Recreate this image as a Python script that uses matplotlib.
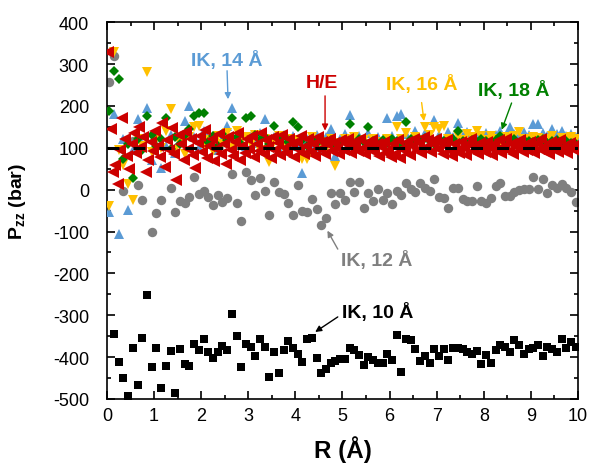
import numpy as np
import matplotlib
matplotlib.use("Agg")
import matplotlib.pyplot as plt
from matplotlib.ticker import MultipleLocator

plt.rcParams['font.family'] = ['Liberation Sans', 'DejaVu Sans']
plt.rcParams['mathtext.fontset'] = 'custom'
plt.rcParams['mathtext.rm'] = 'Liberation Sans'
plt.rcParams['mathtext.bf'] = 'Liberation Sans:bold'
plt.rcParams['mathtext.it'] = 'Liberation Sans:italic'
plt.rcParams['axes.unicode_minus'] = False

# ---------------- data ----------------
R_GRID = [0.05, 0.15, 0.25, 0.35, 0.45, 0.55, 0.65, 0.75, 0.85, 0.95,
          1.05, 1.15, 1.25, 1.35, 1.45, 1.55, 1.65, 1.75, 1.85, 1.95,
          2.05, 2.15, 2.25, 2.35, 2.45, 2.55, 2.65, 2.75, 2.85, 2.95,
          3.05, 3.15, 3.25, 3.35, 3.45, 3.55, 3.65, 3.75, 3.85, 3.95,
          4.05, 4.15, 4.25, 4.35, 4.45, 4.55, 4.65, 4.75, 4.85, 4.95,
          5.05, 5.15, 5.25, 5.35, 5.45, 5.55, 5.65, 5.75, 5.85, 5.95,
          6.05, 6.15, 6.25, 6.35, 6.45, 6.55, 6.65, 6.75, 6.85, 6.95,
          7.05, 7.15, 7.25, 7.35, 7.45, 7.55, 7.65, 7.75, 7.85, 7.95,
          8.05, 8.15, 8.25, 8.35, 8.45, 8.55, 8.65, 8.75, 8.85, 8.95,
          9.05, 9.15, 9.25, 9.35, 9.45, 9.55, 9.65, 9.75, 9.85, 9.95]

# IK, 10 A  (starts at R = 0.15)
P_IK10 = [-345, -411, -450, -492, -378, -467, -355, -251, -423,
          -379, -474, -422, -386, -485, -380, -417, -422, -369, -383,
          -356, -387, -401, -388, -373, -383, -297, -349, -423, -369,
          -376, -397, -356, -377, -447, -389, -437, -384, -361, -378,
          -392, -412, -357, -354, -401, -439, -428, -415, -409, -405,
          -405, -379, -384, -396, -419, -400, -408, -414, -414, -392,
          -408, -347, -435, -357, -358, -380, -410, -397, -415, -381,
          -398, -381, -408, -378, -378, -380, -387, -392, -385, -417,
          -396, -414, -382, -372, -376, -388, -360, -372, -392, -381,
          -379, -372, -398, -375, -381, -389, -357, -379, -363, -376]

nan = float('nan')
# IK, 12 A
P_IK12 = [257, 320, nan, -3, nan, 117, 12, -24, nan, -102,
          -56, -24, nan, 5, -53, -28, -33, -18, 31, -10,
          -3, -17, -37, -13, -30, -21, 37, -32, -74, 43,
          24, -13, 28, -3, -60, 19, -6, -10, -33, -60,
          11, -52, -53, -22, -46, -85, -68, -9, -34, -9,
          -24, 19, -6, 19, -45, -9, -28, 1, -25, -9,
          -34, -3, -13, 15, 1, -5, 15, 5, -3, 25,
          -17, -20, -45, 5, 3, -22, -28, -28, 9, -26,
          -33, -20, 9, 17, -16, -15, -6, 0, 2, 2,
          31, 2, 25, -8, 11, 5, 13, 3, -6, -30]

# IK, 14 A
P_IK14 = [-54, 180, -106, 120, -49, 95, 168, 110, 196, 71,
          125, 51, 105, 130, 88, 118, 164, 200, 125, 100,
          141, 110, 128, 95, 120, 152, 195, 118, 132, 105,
          128, 112, 135, 168, 108, 125, 98, 130, 115, 128,
          105, 40, 122, 110, 130, 98, 125, 146, 81, 120,
          132, 178, 118, 128, 105, 135, 115, 125, 108, 172,
          128, 176, 180, 132, 118, 140, 122, 135, 115, 167,
          130, 118, 138, 125, 160, 128, 137, 120, 132, 125,
          135, 118, 130, 140, 125, 149, 132, 128, 138, 130,
          156, 156, 135, 128, 144, 132, 140, 128, 134, 125]

# IK, 16 A
P_IK16 = [-40, 328, 95, 60, 13, -24, 120, 105, 280, 90,
          118, 100, 141, 192, 95, 112, 85, 125, 149, 151,
          105, 118, 92, 128, 110, 135, 100, 140, 115, 125,
          108, 130, 95, 120, 65, 115, 128, 100, 122, 110,
          118, 73, 73, 125, 105, 115, 98, 120, 57, 112,
          120, 108, 125, 112, 118, 105, 122, 110, 115, 120,
          110, 149, 122, 135, 112, 125, 118, 149, 130, 149,
          145, 152, 122, 115, 128, 118, 132, 125, 141, 129,
          118, 128, 122, 115, 126, 124, 129, 137, 122, 120,
          126, 124, 118, 122, 128, 115, 124, 120, 126, 122]

# IK, 18 A
P_IK18 = [188, 284, 264, 73, 110, 28, 120, 95, 176, 130,
          105, 120, 170, 98, 125, 110, 130, 145, 176, 184,
          183, 115, 128, 105, 132, 118, 172, 125, 110, 172,
          176, 130, 118, 125, 108, 152, 120, 128, 115, 162,
          149, 118, 105, 120, 112, 122, 108, 118, 100, 112,
          118, 157, 110, 120, 114, 149, 116, 108, 118, 112,
          122, 116, 110, 162, 120, 114, 118, 124, 116, 110,
          120, 116, 112, 122, 141, 116, 110, 118, 114, 120,
          116, 112, 118, 129, 114, 116, 120, 112, 118, 116,
          114, 118, 120, 112, 116, 118, 114, 116, 112, 110]

# H/E (finer sampling)
R_HE = [0.025, 0.075, 0.125, 0.175, 0.225, 0.275, 0.325, 0.375, 0.425, 0.475,
        0.525, 0.575, 0.625, 0.675, 0.725, 0.775, 0.825, 0.875, 0.925, 0.975,
        1.025, 1.075, 1.125, 1.175, 1.225, 1.275, 1.325, 1.375, 1.425, 1.475,
        1.525, 1.575, 1.625, 1.675, 1.725, 1.775, 1.825, 1.875, 1.925, 1.975,
        2.025, 2.075, 2.125, 2.175, 2.225, 2.275, 2.325, 2.375, 2.425, 2.475,
        2.525, 2.575, 2.625, 2.675, 2.725, 2.775, 2.825, 2.875, 2.925, 2.975,
        3.025, 3.075, 3.125, 3.175, 3.225, 3.275, 3.325, 3.375, 3.425, 3.475,
        3.525, 3.575, 3.625, 3.675, 3.725, 3.775, 3.825, 3.875, 3.925, 3.975,
        4.025, 4.075, 4.125, 4.175, 4.225, 4.275, 4.325, 4.375, 4.425, 4.475,
        4.525, 4.575, 4.625, 4.675, 4.725, 4.775, 4.825, 4.875, 4.925, 4.975,
        5.025, 5.075, 5.125, 5.175, 5.225, 5.275, 5.325, 5.375, 5.425, 5.475,
        5.525, 5.575, 5.625, 5.675, 5.725, 5.775, 5.825, 5.875, 5.925, 5.975,
        6.025, 6.075, 6.125, 6.175, 6.225, 6.275, 6.325, 6.375, 6.425, 6.475,
        6.525, 6.575, 6.625, 6.675, 6.725, 6.775, 6.825, 6.875, 6.925, 6.975,
        7.025, 7.075, 7.125, 7.175, 7.225, 7.275, 7.325, 7.375, 7.425, 7.475,
        7.525, 7.575, 7.625, 7.675, 7.725, 7.775, 7.825, 7.875, 7.925, 7.975,
        8.025, 8.075, 8.125, 8.175, 8.225, 8.275, 8.325, 8.375, 8.425, 8.475,
        8.525, 8.575, 8.625, 8.675, 8.725, 8.775, 8.825, 8.875, 8.925, 8.975,
        9.025, 9.075, 9.125, 9.175, 9.225, 9.275, 9.325, 9.375, 9.425, 9.475,
        9.525, 9.575, 9.625, 9.675, 9.725, 9.775, 9.825, 9.875, 9.925, 9.975]

P_HE = [328, 145, 41, 60, 13, 95, 172, 120, 80, 49,
        110, 135, 88, 150, 102, 125, 43, 70, 115, 92,
        140, 105, 78, 160, 53, 118, 95, 148, 85, 23,
        130, 108, 72, 138, 96, 120, 82, 51, 112, 128,
        90, 142, 75, 105, 120, 68, 98, 132, 85, 110,
        62, 125, 95, 80, 115, 135, 72, 104, 88, 122,
        98, 128, 78, 110, 92, 135, 85, 118, 102, 75,
        125, 95, 112, 82, 130, 100, 88, 120, 108, 78,
        115, 95, 128, 85, 105, 120, 90, 110, 80, 125,
        98, 115, 86, 108, 122, 92, 112, 100, 84, 118,
        95, 110, 122, 88, 105, 115, 92, 120, 100, 85,
        112, 98, 118, 90, 108, 80, 102, 115, 88, 95,
        78, 110, 85, 118, 75, 100, 92, 115, 82, 105,
        120, 95, 112, 88, 125, 102, 118, 90, 108, 122,
        98, 112, 85, 105, 118, 92, 80, 110, 95, 88,
        115, 100, 82, 108, 120, 92, 105, 85, 112, 98,
        90, 115, 100, 82, 110, 95, 118, 88, 105, 120,
        92, 108, 85, 112, 100, 118, 90, 105, 95, 115,
        102, 88, 112, 98, 120, 92, 105, 85, 115, 100,
        110, 90, 118, 95, 105, 88, 112, 100, 95, 108]

REFERENCE_P = 100

# ---------------- styling ----------------
C_BLACK = '#000000'
C_GRAY = '#7f7f7f'
C_BLUE = '#5b9bd5'
C_YELLOW = '#ffc000'
C_GREEN = '#008000'
C_RED = '#cc0000'

fig = plt.figure(figsize=(5.91, 4.64), dpi=100)
ax = fig.add_axes([0.181, 0.138, 0.797, 0.812])

ax.plot(R_GRID[1:], P_IK10, 's', color=C_BLACK, ms=5.2, mew=0, zorder=2)
ax.plot(R_GRID, P_IK12, 'o', color=C_GRAY, ms=6.8, mew=0, zorder=2)
ax.plot(R_GRID, P_IK14, '^', color=C_BLUE, ms=7.5, mew=0, zorder=3)
ax.plot(R_GRID, P_IK16, 'v', color=C_YELLOW, ms=7.5, mew=0, zorder=3)
ax.plot(R_GRID, P_IK18, 'D', color=C_GREEN, ms=5.6, mew=0, zorder=4)
ax.plot(R_HE, P_HE, '<', color=C_RED, ms=8.5, mew=0, zorder=5)

ax.axhline(REFERENCE_P, color='black', lw=2.2, dashes=(3.9, 4.6), zorder=6)

ax.set_xlim(0, 10)
ax.set_ylim(-500, 400)
ax.xaxis.set_major_locator(MultipleLocator(1))
ax.xaxis.set_minor_locator(MultipleLocator(0.5))
ax.yaxis.set_major_locator(MultipleLocator(100))
ax.yaxis.set_minor_locator(MultipleLocator(50))
ax.tick_params(which='both', direction='in', top=True, right=True,
               labelsize=13, width=1.2)
ax.tick_params(axis='x', pad=6)
ax.tick_params(axis='y', pad=13)
ax.tick_params(which='major', length=6)
ax.tick_params(which='minor', length=3)
for s in ax.spines.values():
    s.set_linewidth(1.2)

ax.set_xlabel('R (Å)', fontsize=17.5, fontweight='bold', labelpad=8)
ax.set_ylabel(r'$\mathbf{P}_{\mathbf{zz}}$ (bar)', fontsize=14,
              fontweight='bold')
ax.yaxis.set_label_coords(-0.168, 0.528)


def tag(xy, xytext, color):
    ax.annotate('', xy=xy, xytext=xytext,
                arrowprops=dict(arrowstyle='-|>', color=color, lw=1.0,
                                mutation_scale=9, shrinkA=0, shrinkB=0),
                zorder=8)


LABEL_SIZE = 14

ax.text(2.55, 312, 'IK, 14 Å', color=C_BLUE, fontsize=LABEL_SIZE,
        fontweight='bold', ha='center', va='center', zorder=8)
tag((2.57, 216), (2.55, 284), C_BLUE)

ax.text(4.56, 257, 'H/E', color=C_RED, fontsize=LABEL_SIZE,
        fontweight='bold', ha='center', va='center', zorder=8)
tag((4.63, 141), (4.63, 224), C_RED)

ax.text(6.69, 254, 'IK, 16 Å', color=C_YELLOW, fontsize=LABEL_SIZE,
        fontweight='bold', ha='center', va='center', zorder=8)
tag((6.73, 164), (6.68, 208), C_YELLOW)

ax.text(8.64, 240, 'IK, 18 Å', color=C_GREEN, fontsize=LABEL_SIZE,
        fontweight='bold', ha='center', va='center', zorder=8)
tag((8.38, 143), (8.59, 207), C_GREEN)

ax.text(5.73, -168, 'IK, 12 Å', color=C_GRAY, fontsize=LABEL_SIZE,
        fontweight='bold', ha='center', va='center', zorder=8)
tag((4.68, -98), (4.90, -142), C_GRAY)

ax.text(5.75, -292, 'IK, 10 Å', color=C_BLACK, fontsize=LABEL_SIZE,
        fontweight='bold', ha='center', va='center', zorder=8)
tag((4.42, -340), (4.90, -304), C_BLACK)

fig.savefig('out.png', dpi=100)
